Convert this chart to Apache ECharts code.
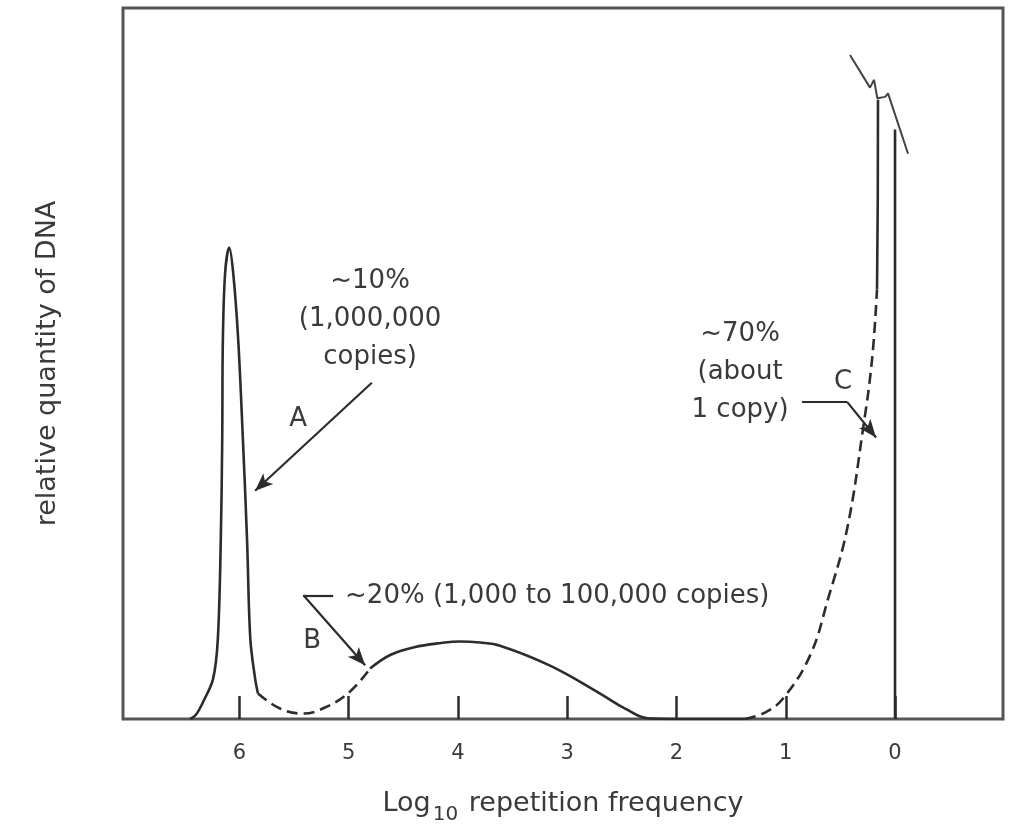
<!DOCTYPE html>
<html>
<head>
<meta charset="utf-8">
<script src="https://cdn.jsdelivr.net/npm/echarts@6/dist/echarts.min.js"></script>
<style>html,body{margin:0;padding:0;background:#fff}#c{width:1012px;height:830px}</style>
</head>
<body>
<div id="c"></div>
<script>
// x: log10 repetition frequency, y: relative quantity of DNA (0-100 frame units)
const peakA_x = [6.45, 6.396, 6.33, 6.24, 6.197, 6.17, 6.157, 6.151, 6.13, 6.093, 6.057, 6.011, 5.968, 5.93, 5.90, 5.856, 5.83];
const peakA_y = [0, 0.63, 2.46, 5.68, 11.3, 25.3, 39.4, 53.4, 62.8, 66.3, 62.8, 53.4, 39.4, 25.3, 11.3, 5.68, 3.58];
const valley_x = [5.83, 5.628, 5.417, 5.198, 4.987, 4.804];
const valley_y = [3.58, 1.47, 0.77, 1.75, 3.86, 7.09];
const humpB_x = [4.804, 4.62, 4.40, 4.15, 3.98, 3.80, 3.615, 3.157, 2.699, 2.47, 2.242, 1.8, 1.373];
const humpB_y = [7.09, 9.0, 10.1, 10.7, 10.9, 10.75, 10.3, 7.5, 3.58, 1.47, 0.07, 0, 0];
const riseC_x = [1.373, 1.19, 1.025, 0.778, 0.613, 0.439, 0.293, 0.21, 0.165];
const riseC_y = [0, 0.9, 2.88, 8.91, 16.9, 26.7, 40.8, 50.6, 60.4];
const topC_x = [0.165, 0.158, 0.156];
const topC_y = [60.4, 73.1, 87.1];
const dropC_x = [0, 0];
const dropC_y = [0, 82.9];
const break_x = [0.412, 0.229, 0.192, 0.162, 0.091, 0.064, -0.119];
const break_y = [93.4, 88.8, 89.9, 87.3, 87.5, 88.0, 79.5];
const tickValues = [0, 1, 2, 3, 4, 5, 6];
const yAxisTitle = 'relative quantity of DNA';

// annotations
const labelTexts = ['~10%\n(1,000,000\ncopies)', 'A', '~20% (1,000 to 100,000 copies)', 'B', '~70%\n(about\n1 copy)', 'C'];
const labelPos = [[4.804, 56.2], [5.463, 42.2], [5.033, 17.3], [5.335, 11.0], [1.418, 48.8], [0.476, 47.4]];
const labelAlign = ['center', 'center', 'left', 'center', 'center', 'center'];
const arrowA = [[4.788, 47.3], [5.856, 32.1]];
const leaderB = [[5.142, 17.4], [5.414, 17.4], [4.849, 7.55]];
const leaderC = [[0.851, 44.6], [0.439, 44.6], [0.174, 39.6]];

const zip = (xs, ys) => xs.map((x, i) => [x, ys[i]]);
const LINE = '#2c2c2c';
const TXT = '#3a3a3a';
const FONT = '"DejaVu Sans", "Open Sans", sans-serif';

function curve(xs, ys, dashed, smooth) {
  return {
    type: 'line', data: zip(xs, ys), showSymbol: false, symbol: 'none',
    smooth: smooth || false,
    lineStyle: { color: LINE, width: 2.6, type: dashed ? [11, 6] : 'solid' },
    silent: true, z: 3
  };
}
function seg(a, b, arrow) {
  return [
    { coord: a, symbol: 'none' },
    { coord: b, symbol: arrow ? 'arrow' : 'none', symbolSize: [11, 18] }
  ];
}

const chart = echarts.init(document.getElementById('c'), null, { renderer: 'canvas' });
chart.setOption({
  animation: false,
  backgroundColor: '#fff',
  grid: { left: 123, top: 8, width: 880, height: 712, show: true, borderColor: '#555', borderWidth: 3, backgroundColor: 'transparent' },
  xAxis: {
    type: 'value', inverse: true, min: -0.988, max: 7.065,
    axisLine: { show: false },
    splitLine: { show: false },
    axisTick: { show: true, inside: true, length: 23, customValues: tickValues, lineStyle: { color: LINE, width: 2.5 } },
    axisLabel: { customValues: tickValues, margin: 24, fontSize: 21, color: TXT, fontFamily: FONT },
    name: '{a|Log}{s|10}{a| repetition frequency}',
    nameLocation: 'middle', nameGap: 64,
    nameTextStyle: {
      fontFamily: FONT, color: TXT,
      rich: {
        a: { fontSize: 27, fontFamily: FONT, color: TXT },
        s: { fontSize: 20, fontFamily: FONT, color: TXT, padding: [22, 2, 0, 2] }
      }
    }
  },
  yAxis: {
    type: 'value', min: 0, max: 100,
    axisLine: { show: false }, axisTick: { show: false }, axisLabel: { show: false }, splitLine: { show: false },
    name: yAxisTitle, nameLocation: 'middle', nameRotate: 90, nameGap: 62,
    nameTextStyle: { fontSize: 27, color: TXT, fontFamily: FONT }
  },
  series: [
    curve(peakA_x, peakA_y, false, 0.35),
    curve(valley_x, valley_y, true, 0.4),
    curve(humpB_x, humpB_y, false, 0.4),
    curve(riseC_x, riseC_y, true, 0.4),
    curve(topC_x, topC_y, false, false),
    curve(dropC_x, dropC_y, false, false),
    {
      type: 'line', data: zip(break_x, break_y), showSymbol: false, symbol: 'none', silent: true,
      lineStyle: { color: '#444', width: 2 }, z: 4
    },
    {
      type: 'scatter', symbolSize: 0, silent: true, z: 5,
      itemStyle: { opacity: 1 },
      data: labelPos.map((p, i) => ({
        value: p,
        label: { show: true, position: [0, 0], formatter: labelTexts[i], align: labelAlign[i], verticalAlign: 'middle',
                 fontSize: 26, lineHeight: 38, color: TXT, fontFamily: FONT, textBorderWidth: 0 }
      })),
      markLine: {
        silent: true, animation: false,
        label: { show: false },
        lineStyle: { color: LINE, width: 2.2, type: 'solid' },
        emphasis: { disabled: true },
        data: [
          seg(arrowA[0], arrowA[1], true),
          seg(leaderB[0], leaderB[1], false),
          seg(leaderB[1], leaderB[2], true),
          seg(leaderC[0], leaderC[1], false),
          seg(leaderC[1], leaderC[2], true)
        ]
      }
    }
  ]
});
</script>
</body>
</html>
